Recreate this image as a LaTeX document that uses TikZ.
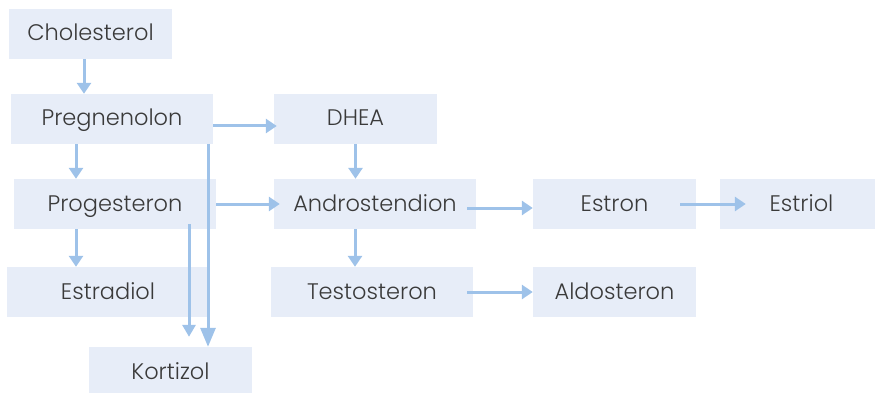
\documentclass[tikz,border=0pt]{standalone}
\usepackage{fontspec}
\setmainfont{Poppins Light}
\usetikzlibrary{arrows.meta,positioning}
\definecolor{boxfill}{HTML}{E7EDF8}
\definecolor{arrowblue}{HTML}{9EC2E9}
\definecolor{textgray}{HTML}{3A3A3A}

\begin{document}
\begin{tikzpicture}[x=1pt,y=-1pt,
  hbox/.style={fill=boxfill, text=textgray, minimum width=163pt,
    minimum height=50pt, inner sep=0pt, text height=15pt, text depth=1pt,
    font=\fontsize{22.5}{26}\selectfont},
  wbox/.style={hbox, minimum width=202pt},
  arr/.style={draw=arrowblue, line width=3pt, -{Triangle[length=11pt,width=14pt]}},
  longhead/.style={-{Triangle[length=19pt,width=15pt]}},
  smallhead/.style={-{Triangle[length=12pt,width=13pt]}}]
  \useasboundingbox (0,0) rectangle (875,393);
  % boxes
  \node [hbox] at (90.5,34) (chol) {Cholesterol};
  \node [wbox] at (112,119) (preg) {Pregnenolon};
  \node [hbox] at (355.5,119) (dhea) {DHEA};
  \node [wbox] at (115,204) (prog) {Progesteron};
  \node [wbox] at (375,204) (andr) {Androstendion};
  \node [hbox] at (614.5,204) (estron) {Estron};
  \node [hbox] at (801.5,204) (estriol) {Estriol};
  \node [wbox] at (108,292) (estrad) {Estradiol};
  \node [wbox] at (372,292) (testo) {Testosteron};
  \node [hbox] at (614.5,292) (aldo) {Aldosteron};
  \node [hbox] at (170.5,372) (kort) {Kortizol};
  % arrows
  \draw [arr] ([xshift=-6.5pt]chol.south) -- ([xshift=-6.5pt]chol.south |- preg.north);
  \draw [arr] ([yshift=-7pt]preg.east) -- ([xshift=3pt,yshift=-7pt]preg.east -| dhea.west);
  \draw [arr] ([xshift=-36pt]preg.south) -- ([xshift=-36pt]preg.south |- prog.north);
  \draw [arr, longhead] ([xshift=96pt]preg.south) -- ([xshift=96pt]preg.south |- kort.north);
  \draw [arr] (prog.east) -- ([xshift=6pt]prog.east -| andr.west);
  \draw [arr] ([xshift=-39pt]prog.south) -- ([xshift=-39pt]prog.south |- estrad.north);
  \draw [arr, smallhead] ([xshift=74pt,yshift=5pt]prog.south)
    -- ([xshift=74pt,yshift=10pt]prog.south |- kort.north);
  \draw [arr] (dhea.south) -- (dhea.south |- andr.north);
  \draw [arr] ([xshift=-9pt,yshift=-4pt]andr.east) -- ([yshift=-4pt]andr.east -| estron.west);
  \draw [arr] ([xshift=-20pt]andr.south) -- ([xshift=-20pt]andr.south |- testo.north);
  \draw [arr] ([xshift=-16pt]estron.east) -- ([xshift=26pt]estron.east -| estriol.west);
  \draw [arr] ([xshift=-6pt]testo.east) -- (testo.east -| aldo.west);
\end{tikzpicture}
\end{document}
